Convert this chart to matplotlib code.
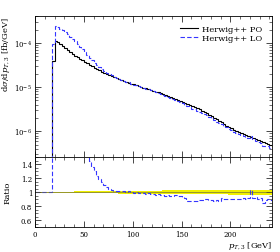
import numpy as np
import matplotlib
matplotlib.use("Agg")
import matplotlib.pyplot as plt
from matplotlib.ticker import MultipleLocator, FixedLocator, FuncFormatter, LogLocator, NullFormatter

plt.rcParams['font.family'] = ['DejaVu Serif']
plt.rcParams['mathtext.fontset'] = 'dejavuserif'

# bin edges in pT,3 [GeV], 2.5 GeV wide
bin_lo = 17.5
bin_hi = 242.5
bin_width = 2.5

# Herwig++ PO, log10 of dsigma/dpT [fb/GeV], one value per bin
po_log10 = [
    -4.40, -3.95, -3.98, -4.03, -4.07, -4.12, -4.16, -4.21, -4.25, -4.29,
    -4.32, -4.36, -4.39, -4.43, -4.46, -4.50, -4.53, -4.56, -4.59, -4.62,
    -4.65, -4.68, -4.70, -4.73, -4.75, -4.78, -4.80, -4.82, -4.84, -4.86,
    -4.88, -4.90, -4.92, -4.94, -4.96, -4.97, -4.99, -5.01, -5.03, -5.04,
    -5.06, -5.08, -5.10, -5.12, -5.14, -5.16, -5.18, -5.20, -5.22, -5.25,
    -5.27, -5.30, -5.32, -5.34, -5.36, -5.38, -5.40, -5.43, -5.45, -5.48,
    -5.50, -5.53, -5.56, -5.59, -5.62, -5.65, -5.69, -5.73, -5.76, -5.80,
    -5.83, -5.87, -5.90, -5.93, -5.96, -5.99, -6.01, -6.04, -6.06, -6.09,
    -6.11, -6.13, -6.15, -6.18, -6.20, -6.22, -6.25, -6.27, -6.29, -6.32,
]

# LO / PO ratio (and main panel where it is off scale)
lo_over_po = [
    2.40, 2.19, 2.15, 2.20, 2.25, 2.30, 2.30, 2.25, 2.20, 2.10,
    2.00, 1.90, 1.80, 1.68, 1.55, 1.45, 1.36, 1.30, 1.24, 1.19,
    1.15, 1.11, 1.07, 1.05, 1.03, 1.02, 1.02, 1.02, 1.015, 1.02,
    1.01, 1.015, 1.00, 0.99, 1.00, 0.99, 0.985, 0.99, 0.98, 0.985,
    0.975, 0.97, 0.965, 0.97, 0.96, 0.955, 0.95, 0.955, 0.945, 0.95,
    0.955, 0.945, 0.94, 0.935, 0.92, 0.88, 0.87, 0.875, 0.88, 0.87,
    0.885, 0.89, 0.90, 0.905, 0.895, 0.89, 0.88, 0.885, 0.875, 0.915,
    0.91, 0.905, 0.91, 0.905, 0.90, 0.91, 0.905, 0.91, 0.915, 0.91,
    0.92, 1.03, 0.925, 0.93, 0.905, 0.92, 0.84, 0.885, 0.91, 0.89,
]

# PO relative uncertainty (yellow band), coarse 22.5 GeV bins
band_edges = [0, 17.5, 40, 62.5, 85, 107.5, 130, 152.5, 175, 197.5, 220, 242.5]
band_err = [0.008, 0.010, 0.012, 0.016, 0.020, 0.024, 0.027, 0.029, 0.030, 0.032, 0.034]

labels = ["Herwig++ PO", "Herwig++ LO"]
blue = '#3535ff'

edges = np.arange(bin_lo, bin_hi + bin_width / 2, bin_width)
po = 10 ** np.array(po_log10)
ratio = np.array(lo_over_po)
lo = po * ratio

# empty region below the first filled bin
edges_full = np.concatenate([[0.0], edges])
po_full = np.concatenate([[1e-12], po])
lo_full = np.concatenate([[1e-12], lo])
ratio_full = np.concatenate([[1.0], ratio])

fig = plt.figure(figsize=(2.8, 2.53), dpi=100)
ax = fig.add_axes([0.125, 0.374, 0.846, 0.559])
rax = fig.add_axes([0.125, 0.098, 0.846, 0.276], sharex=ax)

ax.stairs(po_full, edges_full, baseline=None, color='black', linewidth=0.8, label=labels[0])
ax.stairs(lo_full, edges_full, baseline=None, color=blue, linewidth=0.8,
          linestyle=(0, (4, 2)), label=labels[1])
ax.set_yscale('log')
ax.set_ylim(10 ** -6.59, 10 ** -3.39)
ax.set_xlim(0, 242.5)
ax.set_ylabel(r'$\mathrm{d}\sigma/\mathrm{d}p_{T,3}$ [fb/GeV]', fontsize=6, loc='top')
ax.yaxis.set_label_coords(-0.097, 1.0)
ax.yaxis.set_major_locator(LogLocator(base=10, numticks=10))
ax.yaxis.set_minor_locator(LogLocator(base=10, subs=np.arange(2, 10), numticks=10))
ax.yaxis.set_minor_formatter(NullFormatter())
ax.tick_params(labelbottom=False)
ax.legend(loc='upper right', frameon=False, fontsize=6, handlelength=2.2,
          handletextpad=0.5, labelspacing=0.15, borderaxespad=0.7)

# ratio panel
err = np.array(band_err)
rax.stairs(1 + err, band_edges, baseline=1 - err, fill=True, color='#f0f000', linewidth=0)
rax.axhline(1.0, color='#666644', linewidth=0.45)
rax.stairs(ratio_full, edges_full, baseline=None, color=blue, linewidth=0.8,
           linestyle=(0, (4, 2)))
rax.set_ylim(0.5, 1.5)
rax.set_ylabel('Ratio', fontsize=6)
rax.yaxis.set_label_coords(-0.097, 0.5)
rax.set_xlabel(r'$p_{T,3}$ [GeV]', fontsize=6, loc='right', labelpad=1)
rax.yaxis.set_major_locator(FixedLocator([0.6, 0.8, 1.0, 1.2, 1.4]))
rax.yaxis.set_minor_locator(MultipleLocator(0.05))
rax.yaxis.set_major_formatter(FuncFormatter(lambda v, p: '1' if abs(v - 1) < 1e-9 else f'{v:.1f}'))
rax.xaxis.set_major_locator(MultipleLocator(50))
rax.xaxis.set_minor_locator(MultipleLocator(10))

for a in (ax, rax):
    a.tick_params(which='both', direction='in', top=True, right=True, labelsize=5, pad=2)
    a.tick_params(which='major', length=4, width=0.5)
    a.tick_params(which='minor', length=2, width=0.4)
    for s in a.spines.values():
        s.set_linewidth(0.6)

fig.savefig('out.png', dpi=100)
